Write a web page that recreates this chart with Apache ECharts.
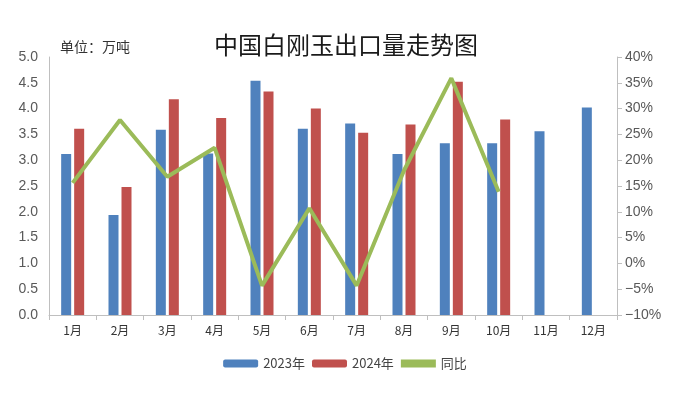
<!DOCTYPE html>
<html><head><meta charset="utf-8">
<script src="https://cdn.jsdelivr.net/npm/echarts@6/dist/echarts.min.js"></script>
<style>html,body{margin:0;padding:0;background:#fff}#c{width:690px;height:396px}</style>
</head><body><div id="c"></div>
<script>
const categories = ['1月','2月','3月','4月','5月','6月','7月','8月','9月','10月','11月','12月'];
const values2023 = [3.12,1.94,3.59,3.13,4.54,3.61,3.71,3.12,3.33,3.33,3.56,4.02];
const values2024 = [3.61,2.48,4.18,3.82,4.33,4.00,3.53,3.69,4.52,3.79,null,null];
const yoy = [15.6,27.8,16.8,22.4,-4.3,10.7,-4.3,18.0,35.9,13.9,null,null];
const leftTicks = [0,0.5,1,1.5,2,2.5,3,3.5,4,4.5,5];
const rightTicks = [-10,-5,0,5,10,15,20,25,30,35,40];

const chart = echarts.init(document.getElementById('c'));
const lblFont = {fontFamily:'Liberation Sans, Arial, sans-serif', color:'#595959'};
chart.setOption({
  animation:false,
  title:{text:'中国白刚玉出口量走势图', top:28, textAlign:'center', left:341,
    textStyle:{fontFamily:'Noto Sans CJK SC', fontSize:24, fontWeight:'normal', color:'#1a1a1a'}},
  graphic:[{type:'text', left:60, top:40, style:{text:'单位：万吨', fontFamily:'Noto Sans CJK SC', fontSize:14, fontWeight:'normal', fill:'#333'}}],
  legend:{bottom:21, left:'center', itemWidth:35, itemHeight:8, itemGap:7,
    textStyle:{fontFamily:'Noto Sans CJK SC', fontSize:13, color:'#444'},
    data:[{name:'2023年'},{name:'2024年'},{name:'同比', icon:'rect'}]},
  grid:{left:49, right:73, top:57, bottom:81},
  xAxis:{type:'category', data:categories, boundaryGap:true,
    axisLine:{lineStyle:{color:'#bfbfbf'}},
    axisTick:{show:true, alignWithLabel:false, length:5, lineStyle:{color:'#bfbfbf'}},
    axisLabel:{fontFamily:'Noto Sans CJK SC', fontSize:12, color:'#333', margin:9}},
  yAxis:[
    {type:'value', min:0, max:5, interval:0.5,
     axisLine:{show:true, lineStyle:{color:'#bfbfbf'}}, axisTick:{show:false}, splitLine:{show:false},
     axisLabel:Object.assign({fontSize:14, margin:11, formatter:v=>v.toFixed(1)}, lblFont)},
    {type:'value', min:-10, max:40, interval:5, position:'right',
     axisLine:{show:true, lineStyle:{color:'#bfbfbf'}}, axisTick:{show:true, length:5, lineStyle:{color:'#bfbfbf'}}, splitLine:{show:false},
     axisLabel:Object.assign({fontSize:14, margin:8, formatter:v=>(v<0?'\u2212'+(-v):v)+'%'}, lblFont)}
  ],
  series:[
    {name:'2023年', type:'bar', data:values2023, barWidth:10, barGap:'30%', itemStyle:{color:'#4F81BD'}},
    {name:'2024年', type:'bar', data:values2024, barWidth:10, barGap:'30%', itemStyle:{color:'#C0504D'}},
    {name:'同比', type:'line', yAxisIndex:1, data:yoy, symbol:'none', lineStyle:{color:'#9BBB59', width:4}, itemStyle:{color:'#9BBB59'}}
  ]
});
</script></body></html>
